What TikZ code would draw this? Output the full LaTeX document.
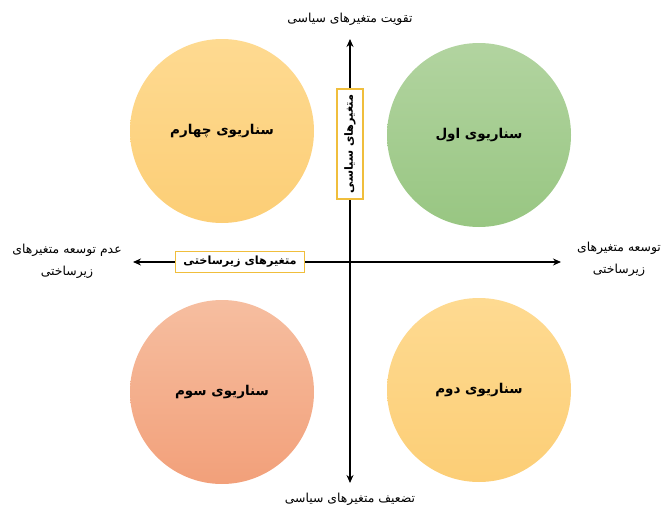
\documentclass[tikz,border=0pt]{standalone}
\usepackage{fontspec}
\usepackage{tikz}
\usetikzlibrary{arrows.meta, positioning, shadings}
\usepackage{xcolor}
\TeXXeTstate=1
\newfontfamily\arabicfont[Script=Arabic]{DejaVu Sans}
\newcommand{\fatext}[1]{\arabicfont\beginR #1\endR}
\definecolor{scenyellowtop}{RGB}{254,218,145}
\definecolor{scenyellowbot}{RGB}{252,206,118}
\definecolor{scengreentop}{RGB}{178,212,160}
\definecolor{scengreenbot}{RGB}{152,198,130}
\definecolor{scenredtop}{RGB}{246,190,160}
\definecolor{scenredbot}{RGB}{242,160,122}
\definecolor{boxborder}{RGB}{240,190,60}
\tikzstyle{scenario} = [circle, minimum size=184pt, inner sep=0pt, text centered, font=\bfseries\fontsize{13.5}{15}\selectfont]
\tikzstyle{axislabel} = [align=center, font=\fontsize{12.4}{22}\selectfont, inner sep=1pt]
\tikzstyle{varbox} = [rectangle, draw=boxborder, line width=1.3pt, fill=white, inner sep=2pt, font=\bfseries\fontsize{11.3}{13}\selectfont]
\tikzstyle{axis} = [line width=1.9pt, {Stealth[length=8pt,width=7pt]}-{Stealth[length=8pt,width=7pt]}]

\begin{document}
\begin{tikzpicture}[x=1pt, y=-1pt]
\useasboundingbox (0,0) rectangle (664,514);

% Axis end points
\coordinate (ax_left) at (133,262);
\coordinate (ax_right) at (561,262);
\coordinate (ax_top) at (350,39);
\coordinate (ax_bottom) at (350,483);

% Scenarios
\node[scenario, top color=scenyellowtop, bottom color=scenyellowbot] (scen_four) at (222,131) {\fatext{سناریوی چهارم}};
\node[scenario, top color=scengreentop, bottom color=scengreenbot] (scen_one) at (479,135) {\fatext{سناریوی اول}};
\node[scenario, top color=scenredtop, bottom color=scenredbot] (scen_three) at (222,392) {\fatext{سناریوی سوم}};
\node[scenario, top color=scenyellowtop, bottom color=scenyellowbot] (scen_two) at (479,390) {\fatext{سناریوی دوم}};

% Axes
\draw[axis] (ax_left) -- (ax_right);
\draw[axis] (ax_bottom) -- (ax_top);

% Axis boxes
\node[varbox, minimum width=129pt, minimum height=21pt] (infra_box) at (240,262) {\fatext{متغیرهای زیرساختی}};
\node[varbox, rotate=90, minimum width=110pt, minimum height=26pt] (policy_box) at (350,144) {\fatext{متغیرهای سیاسی}};

% Axis labels
\node[axislabel] (lbl_top) at (350,19) {\fatext{تقویت متغیرهای سیاسی}};
\node[axislabel] (lbl_bottom) at (350,499) {\fatext{تضعیف متغیرهای سیاسی}};
\node[axislabel] (lbl_left) at (67,261) {\fatext{عدم توسعه متغیرهای}\\\fatext{زیرساختی}};
\node[axislabel] (lbl_right) at (619,259) {\fatext{توسعه متغیرهای}\\\fatext{زیرساختی}};

\end{tikzpicture}
\end{document}
